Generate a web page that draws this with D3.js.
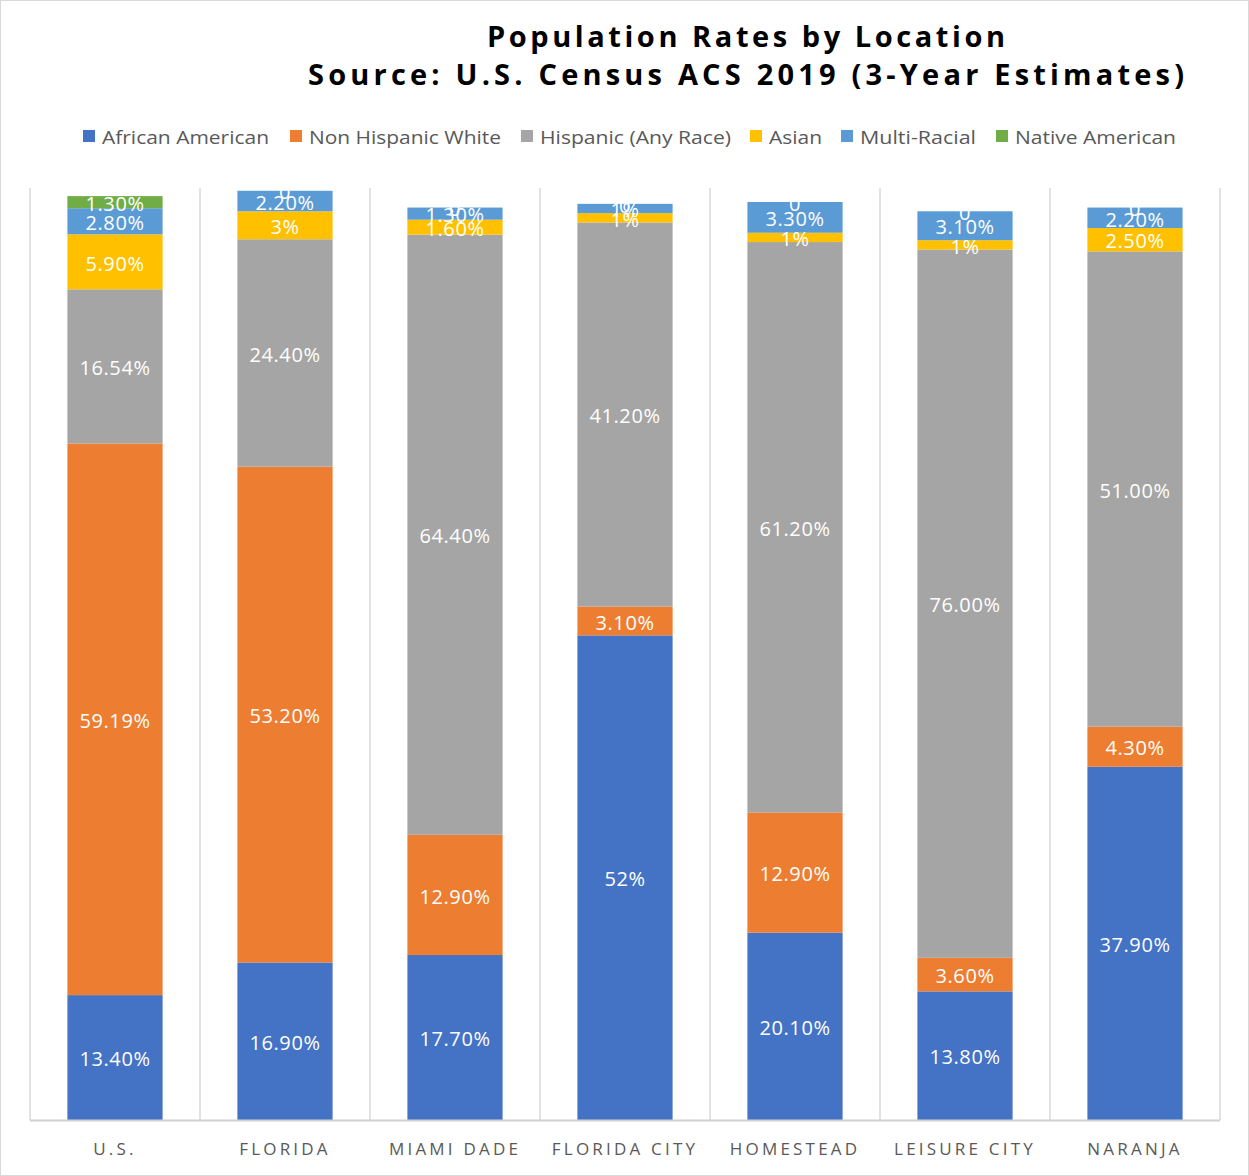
<!DOCTYPE html>
<html><head><meta charset="utf-8">
<script src="https://cdn.jsdelivr.net/npm/d3@7"></script>
<style>body{margin:0;background:#fff}svg{display:block}</style>
</head><body>
<script>
const categories = ["U.S.","FLORIDA","MIAMI DADE","FLORIDA CITY","HOMESTEAD","LEISURE CITY","NARANJA"];
const seriesNames = ["African American","Non Hispanic White","Hispanic (Any Race)","Asian","Multi-Racial","Native American"];
const africanAmerican = [13.4,16.9,17.7,52,20.1,13.8,37.9];
const nonHispanicWhite = [59.19,53.2,12.9,3.1,12.9,3.6,4.3];
const hispanic = [16.54,24.4,64.4,41.2,61.2,76,51];
const asian = [5.9,3,1.6,1,1,1,2.5];
const multiRacial = [2.8,2.2,1.3,1,3.3,3.1,2.2];
const nativeAmerican = [1.3,0,0,0,0,0,0];
const labelsAA = ["13.40%","16.90%","17.70%","52%","20.10%","13.80%","37.90%"];
const labelsNHW = ["59.19%","53.20%","12.90%","3.10%","12.90%","3.60%","4.30%"];
const labelsHisp = ["16.54%","24.40%","64.40%","41.20%","61.20%","76.00%","51.00%"];
const labelsAsian = ["5.90%","3%","1.60%","1%","1%","1%","2.50%"];
const labelsMulti = ["2.80%","2.20%","1.30%","1%","3.30%","3.10%","2.20%"];
const labelsNative = ["1.30%","0","0","0","0","0","0"];
const colors = ["#4472C4","#ED7D31","#A5A5A5","#FFC000","#5B9BD5","#70AD47"];
const titleLines = ["Population Rates by Location","Source: U.S. Census ACS 2019 (3-Year Estimates)"];

const W=1249,H=1176;
const svg=d3.select("body").append("svg").attr("width",W).attr("height",H);
svg.append("rect").attr("x",0.5).attr("y",0.5).attr("width",W-1).attr("height",H-1).attr("fill","#fff").attr("stroke","#d9d9d9");

const seriesVals=[africanAmerican,nonHispanicWhite,hispanic,asian,multiRacial,nativeAmerican];
const seriesLabels=[labelsAA,labelsNHW,labelsHisp,labelsAsian,labelsMulti,labelsNative];
const rows=categories.map((c,i)=>{const o={cat:c};seriesNames.forEach((s,j)=>o[s]=seriesVals[j][i]);return o;});
const stack=d3.stack().keys(seriesNames)(rows);

const x=d3.scaleBand().domain(categories).range([30,1220]).paddingInner(0.44).paddingOuter(0.22);
const y=d3.scaleLinear().domain([0,100]).range([1120,188]);
const step=x.step();

const g=svg.append("g");
d3.range(categories.length+1).forEach(i=>{
  const gx=30+step*i;
  g.append("line").attr("x1",gx).attr("x2",gx).attr("y1",188).attr("y2",1120).attr("stroke","#d9d9d9").attr("stroke-width",1.5);
});

stack.forEach((s,j)=>{
  svg.append("g").attr("fill",colors[j]).selectAll("rect").data(s).join("rect")
    .attr("x",d=>x(d.data.cat)).attr("width",x.bandwidth())
    .attr("y",d=>y(d[1])).attr("height",d=>y(d[0])-y(d[1]));
});
stack.forEach((s,j)=>{
  svg.append("g").selectAll("text").data(s).join("text")
    .attr("x",d=>x(d.data.cat)+x.bandwidth()/2)
    .attr("y",d=>(y(d[0])+y(d[1]))/2+1.5)
    .attr("dy","0.36em").attr("text-anchor","middle")
    .attr("fill","#fff").attr("font-family","'Open Sans',sans-serif").attr("font-size",20)
    .attr("letter-spacing",0.6)
    .text((d,i)=>seriesLabels[j][i]);
});

svg.append("line").attr("x1",30).attr("x2",1220).attr("y1",1120.5).attr("y2",1120.5).attr("stroke","#d0d0d0").attr("stroke-width",2);

const xa=svg.append("g").attr("transform","translate(0,1120)").call(d3.axisBottom(x).tickSize(0).tickPadding(0));
xa.select(".domain").remove();
xa.selectAll("text").attr("y",35).attr("dy",0).attr("font-family","'Open Sans',sans-serif").attr("font-size",17)
  .attr("fill","#595959").attr("letter-spacing",3.2);

const tw=[518,876];
titleLines.forEach((t,i)=>{
  svg.append("text").attr("x",746).attr("y",47+i*38).attr("text-anchor","middle")
    .attr("font-family","'Open Sans',sans-serif").attr("font-weight","bold").attr("font-size",29)
    .attr("fill","#000").attr("textLength",tw[i]).attr("lengthAdjust","spacing").text(t);
});

const legX=[83,290,521,750,841,996];
const legW=[167,192,191,53,116,161];
seriesNames.forEach((s,i)=>{
  svg.append("rect").attr("x",legX[i]).attr("y",130).attr("width",12).attr("height",12).attr("fill",colors[i]);
  svg.append("text").attr("x",legX[i]+19).attr("y",144).attr("font-family","'Open Sans',sans-serif").attr("font-size",19)
    .attr("fill","#595959").attr("textLength",legW[i]).attr("lengthAdjust","spacingAndGlyphs").text(s);
});
</script>
</body></html>
